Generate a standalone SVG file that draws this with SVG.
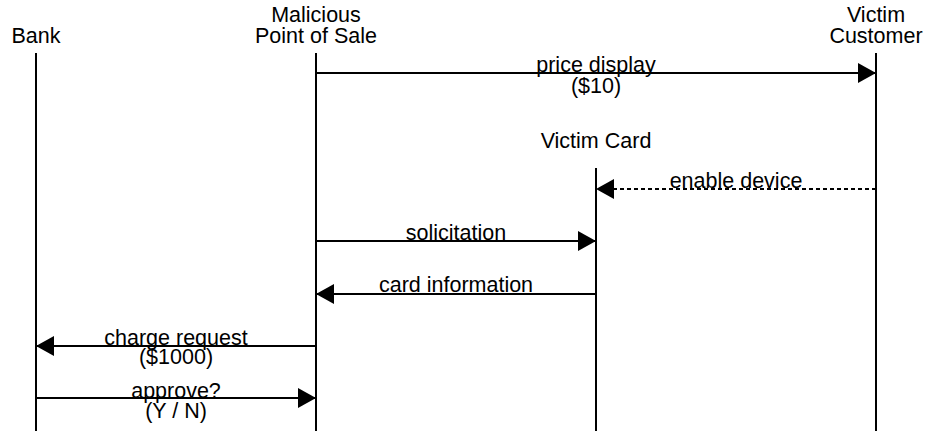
<svg xmlns="http://www.w3.org/2000/svg" width="929" height="431" viewBox="0 0 929 431">
  <style>
    text { font-family: "Liberation Sans", Arial, sans-serif; font-size: 21.5px; fill: #000; text-anchor: middle; }
    .life { stroke: #000; stroke-width: 2; fill: none; }
    .msg { stroke: #000; stroke-width: 2; fill: none; }
    .dash { stroke-dasharray: 4 3; }
  </style>
  <defs>
    <marker id="head" viewBox="0 0 18 20" refX="18" refY="10" markerWidth="18" markerHeight="20" markerUnits="userSpaceOnUse" orient="auto">
      <path d="M0,0 L18,10 L0,20 Z" fill="#000"/>
    </marker>
  </defs>
  <rect width="929" height="431" fill="#fff"/>

  <g id="bank">
    <text x="36" y="43">Bank</text>
    <line class="life" x1="36" y1="53" x2="36" y2="431"/>
  </g>
  <g id="pos">
    <text x="316" y="22">Malicious</text>
    <text x="316" y="43">Point of Sale</text>
    <line class="life" x1="316" y1="53" x2="316" y2="431"/>
  </g>
  <g id="card">
    <text x="596" y="148">Victim Card</text>
    <line class="life" x1="596" y1="168" x2="596" y2="431"/>
  </g>
  <g id="customer">
    <text x="876" y="22">Victim</text>
    <text x="876" y="43">Customer</text>
    <line class="life" x1="876" y1="53" x2="876" y2="431"/>
  </g>

  <g id="connectors">
    <line class="msg" x1="316" y1="73" x2="876" y2="73" marker-end="url(#head)"/>
    <text x="596" y="72">price display</text>
    <text x="596" y="93">($10)</text>

    <line class="msg dash" x1="876" y1="189" x2="596" y2="189" marker-end="url(#head)"/>
    <text x="736" y="188">enable device</text>

    <line class="msg" x1="316" y1="241" x2="596" y2="241" marker-end="url(#head)"/>
    <text x="456" y="240">solicitation</text>

    <line class="msg" x1="596" y1="294" x2="316" y2="294" marker-end="url(#head)"/>
    <text x="456" y="292">card information</text>

    <line class="msg" x1="316" y1="346" x2="36" y2="346" marker-end="url(#head)"/>
    <text x="176" y="345">charge request</text>
    <text x="176" y="364">($1000)</text>

    <line class="msg" x1="36" y1="398" x2="316" y2="398" marker-end="url(#head)"/>
    <text x="176" y="398">approve?</text>
    <text x="176" y="418">(Y / N)</text>
  </g>
</svg>
